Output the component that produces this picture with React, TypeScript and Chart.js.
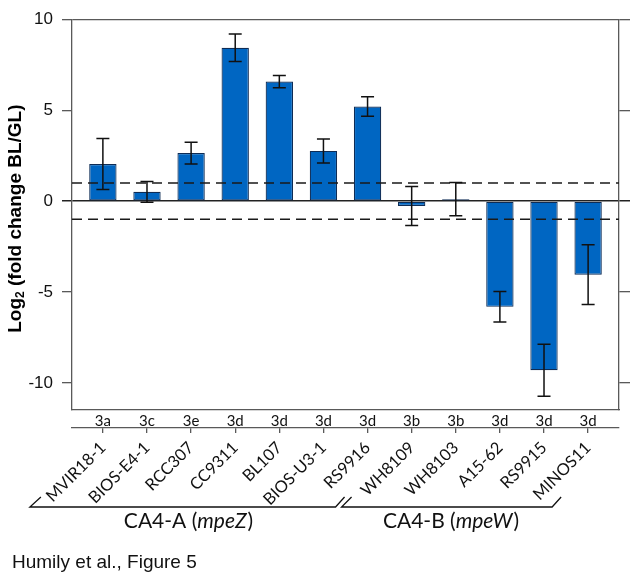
import React, { useEffect, useRef } from 'react';
import { Chart, registerables } from 'chart.js';

Chart.register(...registerables);

const strains = ['MVIR18-1', 'BIOS-E4-1', 'RCC307', 'CC9311', 'BL107', 'BIOS-U3-1', 'RS9916', 'WH8109', 'WH8103', 'A15-62', 'RS9915', 'MINOS11'];
const clades = ['3a', '3c', '3e', '3d', '3d', '3d', '3d', '3b', '3b', '3d', '3d', '3d'];
const log2FoldChange = [2.04, 0.51, 2.64, 8.43, 6.57, 2.76, 5.2, -0.27, 0.11, -5.81, -9.29, -4.04];
const errorValues = [1.4, 0.57, 0.6, 0.76, 0.34, 0.66, 0.54, 1.07, 0.91, 0.84, 1.43, 1.64];
const yTicks = [-10, -5, 0, 5, 10];
const thresholds = [1, -1];
const groupNames = ['CA4-A', 'CA4-B'];
const groupGenes = ['mpeZ', 'mpeW'];
const yTitleMain = 'Log';
const yTitleSub = '2';
const yTitleRest = ' (fold change BL/GL)';
const footer = 'Humily et al., Figure 5';

const X_MIN = -0.7;
const X_MAX = 11.7;
const Y_MIN = -11.48;
const Y_MAX = 10;

const AXIS_COLOR = '#595959';
const SANS = '"Liberation Sans", Arial, sans-serif';
const LABEL_FONT = 'Lato, "Open Sans", sans-serif';

const setIndexTicks = (scale: any) => {
  scale.ticks = strains.map((_, i) => ({ value: i }));
};
const setYTicks = (scale: any) => {
  scale.ticks = yTicks.map((v) => ({ value: v }));
};

const decorPlugin = {
  id: 'decor',
  afterDatasetsDraw(chart: any) {
    const { ctx } = chart;
    const xs = chart.scales.x;
    const ys = chart.scales.y;
    ctx.save();
    ctx.strokeStyle = '#111';
    ctx.lineWidth = 1.5;
    log2FoldChange.forEach((v, i) => {
      const e = errorValues[i];
      const x = xs.getPixelForValue(i);
      const yTop = ys.getPixelForValue(v + e);
      const yBot = ys.getPixelForValue(v - e);
      ctx.beginPath();
      ctx.moveTo(x, yTop);
      ctx.lineTo(x, yBot);
      ctx.moveTo(x - 6.5, yTop);
      ctx.lineTo(x + 6.5, yTop);
      ctx.moveTo(x - 6.5, yBot);
      ctx.lineTo(x + 6.5, yBot);
      ctx.stroke();
    });
    ctx.restore();
  },
  afterDraw(chart: any) {
    const { ctx } = chart;
    const xs = chart.scales.x;
    ctx.save();
    const cx = 16;
    const cy = (chart.chartArea.top + chart.chartArea.bottom) / 2 + 4;
    ctx.translate(cx, cy);
    ctx.rotate(-Math.PI / 2);
    const big = 'bold 19px ' + SANS;
    const small = 'bold 12px ' + SANS;
    ctx.font = big;
    const w1 = ctx.measureText(yTitleMain).width;
    const w3 = ctx.measureText(yTitleRest).width;
    ctx.font = small;
    const w2 = ctx.measureText(yTitleSub).width;
    const total = w1 + w2 + w3;
    let px = -total / 2;
    ctx.fillStyle = '#000';
    ctx.textBaseline = 'middle';
    ctx.textAlign = 'left';
    ctx.font = big;
    ctx.fillText(yTitleMain, px, 0);
    px += w1;
    ctx.font = small;
    ctx.fillText(yTitleSub, px, 5);
    px += w2;
    ctx.font = big;
    ctx.fillText(yTitleRest, px, 0);
    ctx.restore();

    ctx.save();
    ctx.strokeStyle = '#111';
    ctx.lineWidth = 1.3;
    const yb = 507;
    const yt = 497;
    const p0 = xs.getPixelForValue(0);
    const p6 = xs.getPixelForValue(6);
    const p11 = xs.getPixelForValue(11);
    const aL = p0 - 73;
    const aR = p6 - 32;
    const bL = p6 - 26;
    const bR = p11 - 36;
    ctx.beginPath();
    ctx.moveTo(aL + 11, yt);
    ctx.lineTo(aL, yb);
    ctx.lineTo(aR, yb);
    ctx.lineTo(aR + 9, yt);
    ctx.moveTo(bL + 10, yt);
    ctx.lineTo(bL, yb);
    ctx.lineTo(bR, yb);
    ctx.lineTo(bR + 9, yt);
    ctx.stroke();

    const centers = [xs.getPixelForValue(1.93), xs.getPixelForValue(7.88)];
    const normal = '21px ' + LABEL_FONT;
    const ital = 'italic 21px ' + LABEL_FONT;
    ctx.fillStyle = '#111';
    ctx.textBaseline = 'alphabetic';
    ctx.textAlign = 'left';
    groupNames.forEach((name, gi) => {
      const a = name + ' (';
      const b = groupGenes[gi];
      const c = ')';
      ctx.font = normal;
      const wa = ctx.measureText(a).width;
      const wc = ctx.measureText(c).width;
      ctx.font = ital;
      const wb = ctx.measureText(b).width;
      let x = centers[gi] - (wa + wb + wc) / 2;
      const y = 528;
      ctx.font = normal;
      ctx.fillText(a, x, y);
      x += wa;
      ctx.font = ital;
      ctx.fillText(b, x, y);
      x += wb + 1;
      ctx.font = normal;
      ctx.fillText(c, x, y);
    });

    ctx.font = '19px ' + SANS;
    ctx.fillStyle = '#111';
    ctx.fillText(footer, 12, 568);
    ctx.restore();
  },
};

export default function App() {
  const canvasRef = useRef<HTMLCanvasElement | null>(null);

  useEffect(() => {
    if (!canvasRef.current) return;
    const chart = new Chart(canvasRef.current, {
      type: 'bar',
      data: {
        datasets: [
          {
            type: 'bar',
            label: 'Log2 fold change',
            data: log2FoldChange.map((v, i) => ({ x: i, y: v })),
            backgroundColor: '#0066C2',
            borderColor: '#0E2C55',
            borderWidth: 1.2,
            borderSkipped: false,
            barPercentage: 0.62,
            categoryPercentage: 1,
            order: 2,
            xAxisID: 'x',
            yAxisID: 'y',
          } as any,
          ...thresholds.map((t) => ({
            type: 'line',
            label: 'threshold ' + t,
            data: [
              { x: X_MIN, y: t },
              { x: X_MAX, y: t },
            ],
            borderColor: '#1a1a1a',
            borderWidth: 1.5,
            borderDash: [10, 6],
            pointRadius: 0,
            fill: false,
            order: 0,
            xAxisID: 'x',
            yAxisID: 'y',
          } as any)),
        ],
      },
      options: {
        animation: false,
        responsive: false,
        events: [],
        layout: { padding: { top: 13, bottom: 52, left: 0, right: 0 } },
        plugins: {
          legend: { display: false },
          tooltip: { enabled: false },
        },
        scales: {
          x: {
            type: 'linear',
            position: 'bottom',
            offset: false,
            weight: 1,
            min: X_MIN,
            max: X_MAX,
            afterBuildTicks: setIndexTicks,
            afterFit: (s: any) => {
              s.height = 18;
            },
            grid: { display: false, drawTicks: false, offset: false },
            border: { display: true, color: AXIS_COLOR, width: 1.3 },
            ticks: {
              autoSkip: false,
              maxRotation: 0,
              minRotation: 0,
              padding: 2,
              color: '#111',
              font: { family: LABEL_FONT, size: 15 },
              callback: (v: any) => clades[Math.round(Number(v))] ?? '',
            },
          },
          x2: {
            type: 'linear',
            position: 'bottom',
            offset: false,
            weight: 2,
            min: X_MIN,
            max: X_MAX,
            afterBuildTicks: setIndexTicks,
            afterFit: (s: any) => {
              s.height = 98;
            },
            grid: {
              display: true,
              offset: false,
              drawOnChartArea: false,
              drawTicks: true,
              tickLength: 5,
              tickColor: AXIS_COLOR,
              lineWidth: 1.3,
            },
            border: { display: true, color: AXIS_COLOR, width: 1.3 },
            ticks: {
              autoSkip: false,
              maxRotation: 45,
              minRotation: 45,
              padding: 5,
              color: '#111',
              font: { family: LABEL_FONT, size: 16.5 },
              callback: (v: any) => strains[Math.round(Number(v))] ?? '',
            },
          },
          y: {
            type: 'linear',
            position: 'left',
            min: Y_MIN,
            max: Y_MAX,
            afterBuildTicks: setYTicks,
            afterFit: (s: any) => {
              s.width = 72;
            },
            grid: {
              display: true,
              drawOnChartArea: true,
              drawTicks: true,
              tickLength: 10,
              tickColor: (c: any) => (c.tick && c.tick.value === 0 ? '#222' : AXIS_COLOR),
              lineWidth: (c: any) => (c.tick && c.tick.value === 0 ? 1.5 : 1.3),
              color: (c: any) => {
                const v = c.tick && c.tick.value;
                if (v === 0) return '#222';
                if (v === 10) return AXIS_COLOR;
                return 'rgba(0,0,0,0)';
              },
            },
            border: { display: true, color: AXIS_COLOR, width: 1.3 },
            ticks: {
              padding: 9,
              color: '#111',
              font: { family: SANS, size: 17 },
              callback: (v: any) => String(v),
            },
          },
          yR: {
            type: 'linear',
            position: 'right',
            min: Y_MIN,
            max: Y_MAX,
            afterBuildTicks: setYTicks,
            afterFit: (s: any) => {
              s.width = 17;
            },
            grid: {
              display: true,
              drawOnChartArea: false,
              drawTicks: true,
              tickLength: 11,
              tickColor: (c: any) => (c.tick && c.tick.value === 0 ? '#222' : AXIS_COLOR),
              lineWidth: (c: any) => (c.tick && c.tick.value === 0 ? 1.5 : 1.3),
            },
            border: { display: true, color: AXIS_COLOR, width: 1.3 },
            ticks: { display: false },
          },
        },
      } as any,
      plugins: [decorPlugin],
    });
    return () => chart.destroy();
  }, []);

  return (
    <div style={{ position: 'absolute', left: 0, top: 0, width: 636, height: 578, background: '#fff' }}>
      <canvas ref={canvasRef} width={636} height={578} />
    </div>
  );
}
